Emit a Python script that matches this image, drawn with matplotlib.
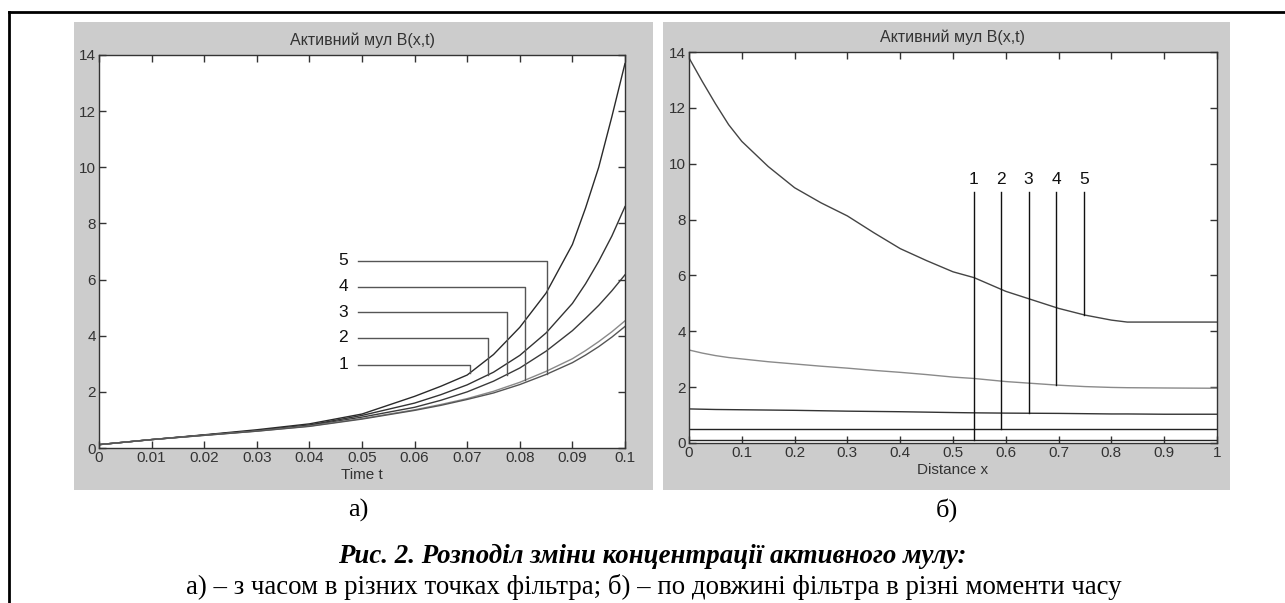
import matplotlib.pyplot as plt
import numpy as np
from matplotlib.patches import Rectangle
from matplotlib.lines import Line2D

plt.rcParams['font.family'] = ['Liberation Sans', 'DejaVu Sans']

# ---- data: panel a) B(x_i, t) at five points of the filter ----
t = [0, 0.01, 0.02, 0.03, 0.04, 0.05, 0.06, 0.065, 0.07, 0.075,
     0.08, 0.085, 0.09, 0.0925, 0.095, 0.0975, 0.1]
b_x1 = [0.12, 0.30, 0.47, 0.65, 0.86, 1.21, 1.84, 2.20, 2.60, 3.33,
        4.30, 5.52, 7.25, 8.55, 10.0, 11.8, 13.7]
b_x2 = [0.12, 0.30, 0.46, 0.62, 0.82, 1.16, 1.60, 1.90, 2.25, 2.70,
        3.30, 4.10, 5.15, 5.85, 6.65, 7.55, 8.60]
b_x3 = [0.12, 0.30, 0.46, 0.61, 0.80, 1.10, 1.45, 1.70, 2.00, 2.38,
        2.85, 3.45, 4.18, 4.62, 5.08, 5.60, 6.17]
b_x4 = [0.12, 0.30, 0.45, 0.60, 0.78, 1.05, 1.36, 1.55, 1.76, 2.02,
        2.34, 2.73, 3.18, 3.47, 3.79, 4.14, 4.53]
b_x5 = [0.12, 0.30, 0.45, 0.60, 0.77, 1.03, 1.34, 1.52, 1.73, 1.96,
        2.26, 2.62, 3.04, 3.31, 3.61, 3.95, 4.33]
curves_a = [b_x1, b_x2, b_x3, b_x4, b_x5]
colors_a = ['#2a2a2a', '#333333', '#3a3a3a', '#8a8a8a', '#555555']
labels_a = ['1', '2', '3', '4', '5']
lead_t = [0.0705, 0.074, 0.0775, 0.081, 0.0852]
lead_y = [2.97, 3.92, 4.83, 5.75, 6.67]

# ---- data: panel б) B(x, t_j) at five moments of time ----
x = [0, 0.025, 0.05, 0.075, 0.1, 0.15, 0.2, 0.25, 0.3, 0.35, 0.4, 0.45,
     0.5, 0.54, 0.6, 0.7, 0.75, 0.8, 0.83, 0.9, 1.0]
b_t1 = [0.12] * len(x)
b_t2 = [0.50] * len(x)
b_t3 = [1.22, 1.21, 1.20, 1.195, 1.19, 1.18, 1.17, 1.155, 1.14, 1.13, 1.12, 1.105,
        1.09, 1.08, 1.07, 1.06, 1.05, 1.04, 1.04, 1.03, 1.03]
b_t4 = [3.33, 3.22, 3.13, 3.06, 3.01, 2.91, 2.83, 2.75, 2.68, 2.60, 2.53, 2.45,
        2.36, 2.31, 2.20, 2.07, 2.02, 1.99, 1.98, 1.97, 1.96]
b_t5 = [13.79, 12.95, 12.15, 11.4, 10.8, 9.9, 9.14, 8.6, 8.13, 7.53, 6.96, 6.53,
        6.13, 5.92, 5.43, 4.82, 4.58, 4.40, 4.33, 4.33, 4.33]
curves_b = [b_t1, b_t2, b_t3, b_t4, b_t5]
colors_b = ['#222222', '#222222', '#333333', '#8a8a8a', '#444444']
labels_b = ['1', '2', '3', '4', '5']
lead_x = [0.539, 0.591, 0.643, 0.695, 0.748]

title = 'Активний мул B(x,t)'
caption1 = 'Рис. 2. Розподіл зміни концентрації активного мулу:'
caption2 = 'а) – з часом в різних точках фільтра; б) – по довжині фільтра в різні моменти часу'

fig = plt.figure(figsize=(12.85, 6.03), dpi=100)

# gray MATLAB-like figure backgrounds
for x0, w in [(74, 579), (663, 567)]:
    fig.patches.append(Rectangle((x0 / 1285, 1 - 490 / 603), w / 1285, 468 / 603,
                                 transform=fig.transFigure, facecolor='#cccccc',
                                 edgecolor='none', zorder=-5))

# outer frame (left and top)
fig.lines.append(Line2D([9 / 1285, 9 / 1285], [0, 1 - 12 / 603], transform=fig.transFigure,
                        color='black', lw=2))
fig.lines.append(Line2D([9 / 1285, 1], [1 - 12 / 603, 1 - 12 / 603], transform=fig.transFigure,
                        color='black', lw=2))

ax1 = fig.add_axes([99 / 1285, 1 - 448 / 603, 526 / 1285, 393 / 603])
ax2 = fig.add_axes([689 / 1285, 1 - 443 / 603, 528 / 1285, 391 / 603])

for ax in (ax1, ax2):
    ax.set_zorder(2)
    ax.set_ylim(0, 14)
    ax.set_yticks(range(0, 15, 2))
    ax.tick_params(direction='in', top=True, right=True, length=5, width=1,
                   labelsize=11, labelcolor='#333333', color='#333333', pad=2)
    for s in ax.spines.values():
        s.set_color('#333333')
        s.set_linewidth(1)
    ax.set_title(title, fontsize=11.5, color='#333333', pad=7)

# panel a)
for yv, c in zip(curves_a, colors_a):
    ax1.plot(t, yv, color=c, lw=1)
ax1.set_xlim(0, 0.1)
ax1.set_xticks(np.arange(0, 0.1001, 0.01))
ax1.set_xticklabels(['0', '0.01', '0.02', '0.03', '0.04', '0.05', '0.06',
                     '0.07', '0.08', '0.09', '0.1'])
ax1.set_xlabel('Time t', fontsize=11, color='#333333', labelpad=2)
for lab, lt, ly, yv in zip(labels_a, lead_t, lead_y, curves_a):
    bottom = np.interp(lt, t, yv)
    ax1.plot([0.0493, lt, lt], [ly, ly, bottom], color='#555555', lw=1)
    ax1.text(0.0464, ly, lab, fontsize=12.5, ha='center', va='center', color='#111111')

# panel б)
for yv, c in zip(curves_b, colors_b):
    ax2.plot(x, yv, color=c, lw=1)
ax2.set_xlim(0, 1)
ax2.set_xticks(np.arange(0, 1.001, 0.1))
ax2.set_xticklabels(['0', '0.1', '0.2', '0.3', '0.4', '0.5', '0.6',
                     '0.7', '0.8', '0.9', '1'])
ax2.set_xlabel('Distance x', fontsize=11, color='#333333', labelpad=2)
for lab, lx, yv in zip(labels_b, lead_x, curves_b):
    bottom = np.interp(lx, x, yv)
    ax2.plot([lx, lx], [9.0, bottom], color='#111111', lw=1)
    ax2.text(lx, 9.45, lab, fontsize=12.5, ha='center', va='center', color='#111111')

serif = ['Liberation Serif', 'DejaVu Serif']
fig.text(358 / 1285, 1 - 510 / 603, 'а)', family=serif, fontsize=19, ha='center', va='center')
fig.text(947 / 1285, 1 - 510 / 603, 'б)', family=serif, fontsize=19, ha='center', va='center')
fig.text(652 / 1285, 1 - 556 / 603, caption1, family=serif, fontsize=19.4, weight='bold',
         style='italic', ha='center', va='center')
fig.text(654 / 1285, 1 - 587 / 603, caption2, family=serif, fontsize=19.4,
         ha='center', va='center')

fig.savefig('out.png', dpi=100)
